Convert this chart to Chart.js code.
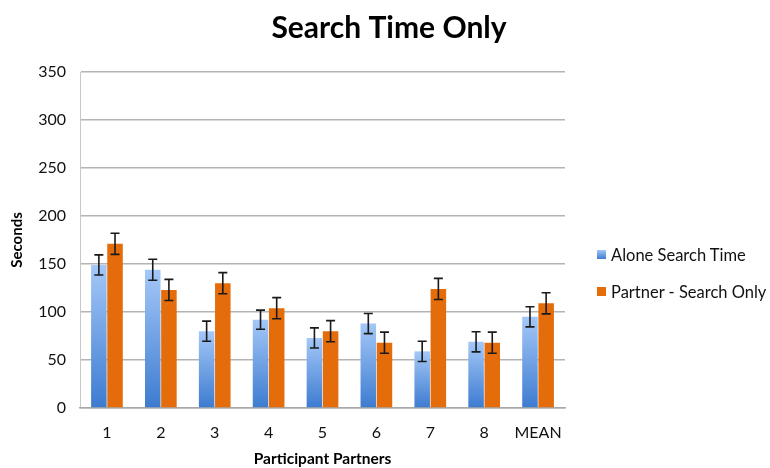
<!DOCTYPE html>
<html>
<head>
<meta charset="utf-8">
<script src="https://cdn.jsdelivr.net/npm/chart.js@4.4.1/dist/chart.umd.min.js"></script>
<style>
  html, body { margin: 0; padding: 0; background: #fff; }
  #wrap { width: 770px; height: 468px; position: relative; }
  #legend { position: absolute; left: 597px; top: 236px; font-family: Lato, "Open Sans", sans-serif; font-size: 16.5px; color: #111; }
  #legend .item { height: 37px; display: flex; align-items: center; white-space: nowrap; }
  #legend .box { width: 9px; height: 9px; margin-right: 5px; }
</style>
</head>
<body>
<div id="wrap"><canvas id="chart"></canvas><div id="legend"></div></div>
<script>
// values
const categories = ['1', '2', '3', '4', '5', '6', '7', '8', 'MEAN'];
const seriesNames = ['Alone Search Time', 'Partner - Search Only'];
const aloneTimes = [149, 144, 80, 92, 73, 88, 59, 69, 95];
const partnerTimes = [171, 123, 130, 104, 80, 68, 124, 68, 109];
const aloneErr = [10.5, 11, 10.5, 10, 10.5, 10.5, 10.5, 10.5, 10.5];
const partnerErr = [11, 11, 11, 11, 11, 11, 11, 11, 11];
const yTicks = [0, 50, 100, 150, 200, 250, 300, 350];

const FONT = 'Lato, "Open Sans", sans-serif';

// blue bars fade light at top, darker at the base
function blueFill(ctx) {
    const chart = ctx.chart;
    const y = chart.scales.y;
    if (!chart.chartArea || !y) return '#6fa0e6';
    const top = y.getPixelForValue(ctx.raw);
    const bottom = y.getPixelForValue(0);
    const g = chart.ctx.createLinearGradient(0, top, 0, bottom);
    g.addColorStop(0, '#a4c8f8');
    g.addColorStop(1, '#3d7bd0');
    return g;
}

const errorBars = {
    id: 'errorBars',
    afterDatasetsDraw(chart) {
        const c = chart.ctx;
        const y = chart.scales.y;
        const errs = [aloneErr, partnerErr];
        c.save();
        c.strokeStyle = '#1a1a1a';
        c.lineWidth = 1.6;
        chart.data.datasets.forEach((ds, i) => {
            const meta = chart.getDatasetMeta(i);
            meta.data.forEach((bar, j) => {
                const v = ds.data[j];
                const hi = y.getPixelForValue(v + errs[i][j]);
                const lo = y.getPixelForValue(v - errs[i][j]);
                c.beginPath();
                c.moveTo(bar.x, hi); c.lineTo(bar.x, lo);
                c.moveTo(bar.x - 4.5, hi); c.lineTo(bar.x + 4.5, hi);
                c.moveTo(bar.x - 4.5, lo); c.lineTo(bar.x + 4.5, lo);
                c.stroke();
            });
        });
        c.restore();
    }
};

const chart = new Chart(document.getElementById('chart'), {
    type: 'bar',
    data: {
        labels: categories,
        datasets: [{
            label: seriesNames[0],
            data: aloneTimes,
            backgroundColor: blueFill,
            barPercentage: 0.96,
            categoryPercentage: 0.6
        }, {
            label: seriesNames[1],
            data: partnerTimes,
            backgroundColor: '#e46c0a',
            barPercentage: 0.96,
            categoryPercentage: 0.6
        }]
    },
    options: {
        responsive: true,
        maintainAspectRatio: false,
        animation: false,
        layout: { padding: { left: 8, right: 0, top: 4, bottom: 0 } },
        plugins: {
            title: {
                display: true,
                text: 'Search Time Only',
                color: '#000',
                font: { family: FONT, size: 30, weight: 'bold' },
                padding: { top: 6, bottom: 26 }
            },
            legend: { display: false },
            tooltip: { enabled: false }
        },
        scales: {
            y: {
                min: 0,
                max: 350,
                afterBuildTicks: s => { s.ticks = yTicks.map(v => ({ value: v })); },
                grid: { color: '#b3b3b3', lineWidth: 1.5, drawTicks: false },
                border: { color: '#c8c8c8', width: 1 },
                ticks: { color: '#111', padding: 14, font: { family: FONT, size: 16 } },
                title: {
                    display: true,
                    text: 'Seconds',
                    color: '#000',
                    font: { family: FONT, size: 15, weight: 'bold' },
                    padding: { top: 0, bottom: 6 }
                },
                afterFit: s => { s.width = 72; }
            },
            // empty strip on the right that holds the html legend
            gap: {
                position: 'right',
                min: 0,
                max: 350,
                grid: { display: false, drawTicks: false },
                border: { display: false },
                ticks: { display: false },
                afterFit: s => { s.width = 205; }
            },
            x: {
                grid: { display: false, drawTicks: false },
                border: { color: '#a8a8a8', width: 1.5 },
                ticks: { color: '#111', padding: 15, font: { family: FONT, size: 16 } },
                title: {
                    display: true,
                    text: 'Participant Partners',
                    color: '#000',
                    font: { family: FONT, size: 15.5, weight: 'bold' },
                    padding: { top: 9, bottom: 0 }
                },
                afterFit: s => { s.height = 60; }
            }
        }
    },
    plugins: [errorBars]
});

// legend on the right, matching the series
const swatches = ['linear-gradient(#a4c8f8, #3d7bd0)', '#e46c0a'];
const legendEl = document.getElementById('legend');
chart.data.datasets.forEach((ds, i) => {
    legendEl.innerHTML += `<div class="item"><span class="box" style="background:${swatches[i]}"></span>${ds.label}</div>`;
});
</script>
</body>
</html>
